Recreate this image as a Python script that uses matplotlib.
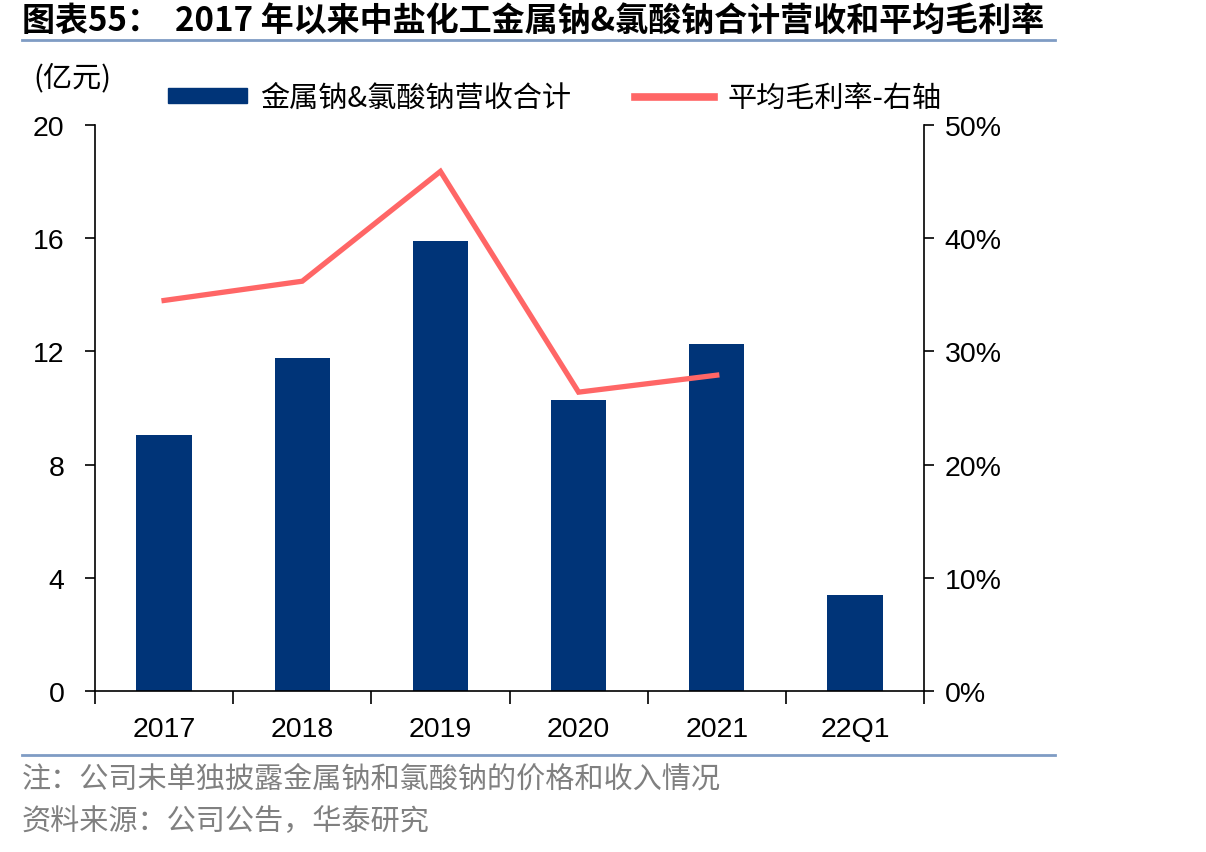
import matplotlib
matplotlib.use("Agg")
import matplotlib.pyplot as plt
from matplotlib.patches import Patch
from matplotlib.lines import Line2D

plt.rcParams['font.family'] = ['Liberation Sans', 'Noto Sans CJK SC', 'DejaVu Sans']

categories = ['2017', '2018', '2019', '2020', '2021', '22Q1']
revenue = [9.05, 11.75, 15.9, 10.3, 12.25, 3.4]
margin_pct = [34.5, 36.2, 45.9, 26.4, 27.9]
left_ticks = [0, 4, 8, 12, 16, 20]
right_ticks = [0, 10, 20, 30, 40, 50]

BAR = '#003478'
LINE = '#FF6666'
RULE = '#7F9CC4'
CJK = ['Noto Sans CJK SC', 'DejaVu Sans']

fig = plt.figure(figsize=(12.06, 8.53), dpi=100)
ax = fig.add_axes([95/1206, 1-692/853, (924-95)/1206, (692-126)/853])
ax2 = ax.twinx()

x = list(range(len(categories)))
ax.bar(x, revenue, width=0.4, color=BAR, zorder=2)
ax2.plot(x[:len(margin_pct)], margin_pct, color=LINE, lw=3.8, solid_joinstyle='miter', zorder=3)

ax.set_xlim(-0.5, len(categories)-0.5)
ax.set_ylim(0, 20)
ax2.set_ylim(0, 50)
ax.set_yticks(left_ticks)
ax.set_yticklabels([str(v) for v in left_ticks])
ax2.set_yticks(right_ticks)
ax2.set_yticklabels([f'{v}%' for v in right_ticks])

ax.set_xticks([i - 0.5 for i in range(len(categories)+1)])
ax.set_xticklabels([])
ax.set_xticks(x, minor=True)
ax.set_xticklabels(categories, minor=True)
ax.tick_params(axis='x', which='major', direction='out', length=9, width=1.2, color='black')
ax.tick_params(axis='x', which='minor', length=0, pad=18, labelsize=20.5)
ax.tick_params(axis='y', direction='out', length=7, width=1.2, labelsize=20.5, pad=15)
ax2.tick_params(axis='y', direction='out', length=7, width=1.2, labelsize=20.5, pad=8)

for a in (ax, ax2):
    a.spines['top'].set_visible(False)
    for s in ('left', 'right', 'bottom'):
        a.spines[s].set_linewidth(1.2)
ax.spines['right'].set_visible(False)
ax2.spines['left'].set_visible(False)
ax2.spines['bottom'].set_visible(False)

handles = [Patch(facecolor=BAR, edgecolor=BAR),
           Line2D([0], [0], color=LINE, lw=5.5)]
labels = ['金属钠&氯酸钠营收合计', '平均毛利率-右轴']
fig.legend(handles, labels, loc='center', bbox_to_anchor=(0.460, 1-99/853), ncol=2,
           frameon=False, prop={'family': CJK, 'size': 21}, handlelength=2.7,
           handleheight=0.45, handletextpad=0.45, columnspacing=2.2)

fig.text(22/1206, 1-22/853, '图表55：  2017 年以来中盐化工金属钠&氯酸钠合计营收和平均毛利率',
         family=CJK, fontsize=23.8, fontweight='bold', va='center', ha='left')
fig.add_artist(Line2D([22/1206, 1055/1206], [1-41/853, 1-41/853], color=RULE, lw=2))
fig.text(33/1206, 1-78/853, '(亿元)', family=CJK, fontsize=21, va='center', ha='left')

fig.add_artist(Line2D([22/1206, 1055/1206], [1-756/853, 1-756/853], color=RULE, lw=2))
fig.text(22/1206, 1-780/853, '注：公司未单独披露金属钠和氯酸钠的价格和收入情况',
         family=CJK, fontsize=21, color='#808080', va='center', ha='left')
fig.text(22/1206, 1-822/853, '资料来源：公司公告，华泰研究',
         family=CJK, fontsize=21, color='#808080', va='center', ha='left')

fig.savefig('out.png', dpi=100)
